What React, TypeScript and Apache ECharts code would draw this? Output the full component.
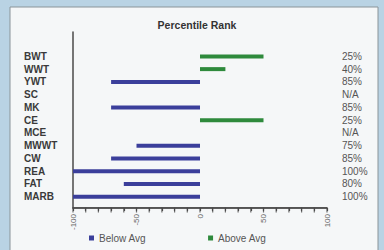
import React, { useEffect, useRef } from "react";
import * as echarts from "echarts";

const categories = ["BWT", "WWT", "YWT", "SC", "MK", "CE", "MCE", "MWWT", "CW", "REA", "FAT", "MARB"];
const percentLabels = ["25%", "40%", "85%", "N/A", "85%", "25%", "N/A", "75%", "85%", "100%", "80%", "100%"];
const belowAvg = [null, null, -70, null, -70, null, null, -50, -70, -100, -60, -100];
const aboveAvg = [50, 20, null, null, null, 50, null, null, null, null, null, null];
const xTickLabels = ["-100", "-50", "0", "50", "100"];
const xTicks = [-100, -90, -80, -70, -60, -50, -40, -30, -20, -10, 0, 10, 20, 30, 40, 50, 60, 70, 80, 90, 100];

const FONT = "'Liberation Sans', Arial, sans-serif";

export default function App() {
  const ref = useRef<HTMLDivElement>(null);
  useEffect(() => {
    document.body.style.margin = "0";
    const chart = echarts.init(ref.current!, null, { renderer: "svg" });
    const labelSet = new Set(xTickLabels.map(Number));
    chart.setOption({
      animation: false,
      backgroundColor: "#b9d3e4",
      textStyle: { fontFamily: FONT },
      title: {
        text: "Percentile Rank",
        left: 192,
        textAlign: "center",
        top: 14,
        textStyle: { fontSize: 10.5, fontWeight: "bold", color: "#333", fontFamily: FONT },
      },
      graphic: [
        {
          type: "rect",
          z: -10,
          shape: { x: 10, y: 7, width: 368, height: 250 },
          style: { fill: "#f5f7f8", stroke: "#8a9499", lineWidth: 1 },
        },
      ],
      legend: {
        bottom: 2,
        left: 84,
        itemWidth: 5,
        itemHeight: 5,
        itemGap: 62,
        icon: "rect",
        textStyle: { fontSize: 10, color: "#555", fontFamily: FONT },
        data: ["Below Avg", "Above Avg"],
      },
      grid: [
        { left: 73, right: 57, top: 50, height: 153 },
        { left: 73, right: 57, top: 32, height: 176 },
      ],
      xAxis: [
        { gridIndex: 0, type: "value", min: -100, max: 100, show: false },
        {
          gridIndex: 1,
          type: "value",
          min: -100,
          max: 100,
          interval: 10,
          position: "bottom",
          axisLine: { show: true, onZero: false, lineStyle: { color: "#4a4a4a", width: 1.5 } },
          axisTick: { show: true, length: 3, lineStyle: { color: "#4a4a4a", width: 1.2 } },
          splitLine: { show: false },
          axisLabel: {
            show: true,
            rotate: 90,
            margin: 6,
            fontSize: 8,
            color: "#666",
            fontFamily: FONT,
            formatter: (v: number) => (labelSet.has(v) ? String(v) : ""),
          },
        },
      ],
      yAxis: [
        {
          gridIndex: 0,
          type: "category",
          inverse: true,
          data: categories,
          axisLine: { show: false },
          axisTick: { show: false },
          axisLabel: {
            interval: 0,
            align: "left",
            margin: 49,
            fontSize: 10,
            fontWeight: "bold",
            color: "#3a3a3a",
            fontFamily: FONT,
          },
        },
        {
          gridIndex: 0,
          type: "category",
          inverse: true,
          position: "right",
          data: percentLabels,
          axisLine: { show: false },
          axisTick: { show: false },
          axisLabel: {
            interval: 0,
            align: "left",
            margin: 15,
            fontSize: 10,
            color: "#555",
            fontFamily: FONT,
          },
        },
        {
          gridIndex: 1,
          type: "value",
          min: 0,
          max: 1,
          axisLine: { show: true, onZero: false, lineStyle: { color: "#4a4a4a", width: 1.5 } },
          axisTick: { show: false },
          axisLabel: { show: false },
          splitLine: { show: false },
        },
      ],
      series: [
        {
          name: "Below Avg",
          type: "bar",
          xAxisIndex: 0,
          yAxisIndex: 0,
          data: belowAvg,
          barWidth: 4,
          barGap: "-100%",
          itemStyle: { color: "#3b3f9b" },
        },
        {
          name: "Above Avg",
          type: "bar",
          xAxisIndex: 0,
          yAxisIndex: 0,
          data: aboveAvg,
          barWidth: 4,
          barGap: "-100%",
          itemStyle: { color: "#2e8a3c" },
        },
        {
          type: "line",
          xAxisIndex: 1,
          yAxisIndex: 2,
          silent: true,
          symbol: "none",
          lineStyle: { color: "#4a4a4a", width: 1.5 },
          data: [[-100, 0], [100, 0]],
        },
        {
          type: "scatter",
          xAxisIndex: 1,
          yAxisIndex: 2,
          silent: true,
          symbol: "rect",
          symbolSize: [1.2, 5],
          symbolOffset: [0, 2],
          itemStyle: { color: "#4a4a4a" },
          data: xTicks.map((t) => [t, 0]),
        },
      ],
    });
    return () => chart.dispose();
  }, []);
  return <div ref={ref} style={{ width: 384, height: 250 }} />;
}
